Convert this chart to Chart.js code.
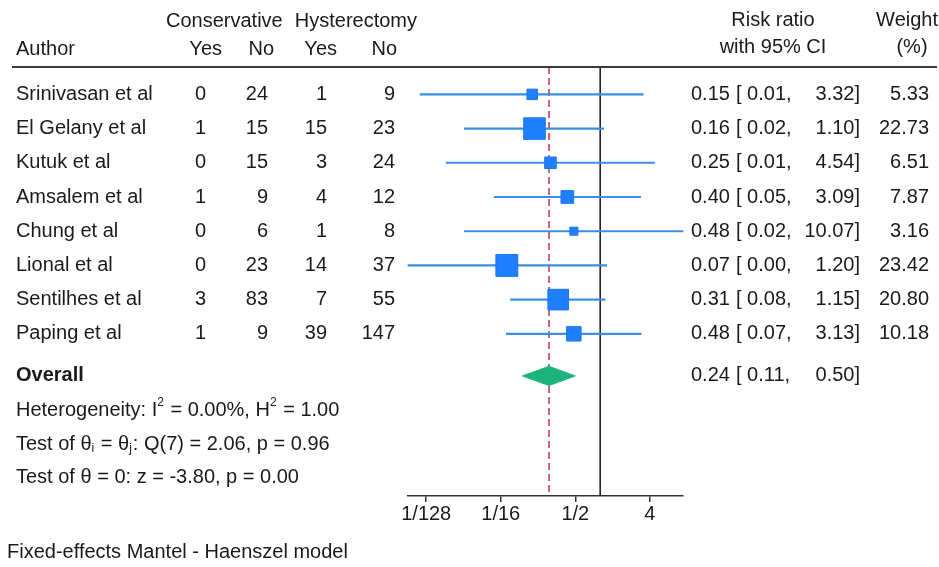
<!DOCTYPE html>
<html>
<head>
<meta charset="utf-8">
<script src="https://cdn.jsdelivr.net/npm/chart.js@4.4.0/dist/chart.umd.min.js"></script>
<style>
  html, body { margin: 0; padding: 0; background: #fff; }
</style>
</head>
<body>
<canvas id="forest" width="939" height="567"></canvas>
<script>
// Study rows
const authors = ['Srinivasan et al', 'El Gelany et al', 'Kutuk et al', 'Amsalem et al',
                 'Chung et al', 'Lional et al', 'Sentilhes et al', 'Paping et al'];
const conservativeYes = [0, 1, 0, 1, 0, 0, 3, 1];
const conservativeNo = [24, 15, 15, 9, 6, 23, 83, 9];
const hysterectomyYes = [1, 15, 3, 4, 1, 14, 7, 39];
const hysterectomyNo = [9, 23, 24, 12, 8, 37, 55, 147];
const riskRatio = [0.15, 0.16, 0.25, 0.40, 0.48, 0.074, 0.31, 0.48];
const ciLower = [0.0066, 0.0226, 0.0136, 0.052, 0.0226, 0.0047, 0.082, 0.073];
const ciUpper = [3.32, 1.10, 4.54, 3.09, 10.07, 1.20, 1.15, 3.13];
const weights = [5.33, 22.73, 6.51, 7.87, 3.16, 23.42, 20.80, 10.18];

// Pooled estimate
const overallRR = 0.24;
const overallLower = 0.114;
const overallUpper = 0.50;

// Axis
const xTicks = [1 / 128, 1 / 16, 1 / 2, 4];
const xTickLabels = ['1/128', '1/16', '1/2', '4'];
const xMin = 0.0047;
const xMax = 10.07;

// Footer statistics (text runs, 'sup' / 'sub' for raised / lowered glyphs)
const statLines = [
    [['Heterogeneity: I'], ['2', 'sup'], [' = 0.00%, H'], ['2', 'sup'], [' = 1.00']],
    [['Test of \u03b8'], ['i', 'sub'], [' = \u03b8'], ['j', 'sub'], [': Q(7) = 2.06, p = 0.96']],
    [['Test of \u03b8 = 0: z = -3.80, p = 0.00']]
];

// vertical layout in row units
const yMin = -0.8;
const yMax = 11.74;
const overallRow = 8.23;
const statRows = [9.23, 10.22, 11.21];
const diamondHalf = 0.28;

const FONT = '20px "Liberation Sans", Arial, sans-serif';
const FONT_BOLD = 'bold 20px "Liberation Sans", Arial, sans-serif';
const FONT_SMALL = '12px "Liberation Sans", Arial, sans-serif';
const INK = '#1a1a1a';

function drawRuns(ctx, runs, x, y) {
    let cx = x;
    runs.forEach(([t, kind]) => {
        ctx.font = kind ? FONT_SMALL : FONT;
        const dy = kind === 'sup' ? -7 : kind === 'sub' ? 5 : 0;
        ctx.fillText(t, cx, y + dy);
        cx += ctx.measureText(t).width + (kind ? 1 : 0);
    });
}

const tableText = {
    id: 'tableText',
    afterDraw(chart) {
        const { ctx, chartArea, scales: { y } } = chart;
        ctx.save();
        ctx.fillStyle = INK;
        ctx.textBaseline = 'middle';

        const put = (t, x, py, align, font) => {
            ctx.font = font || FONT;
            ctx.textAlign = align || 'left';
            ctx.fillText(t, x, py);
        };

        // header
        put('Conservative', 166, 21);
        put('Hysterectomy', 417, 21, 'right');
        put('Author', 16, 49);
        put('Yes', 222, 49, 'right');
        put('No', 274, 49, 'right');
        put('Yes', 337, 49, 'right');
        put('No', 397, 49, 'right');
        put('Risk ratio', 773, 20, 'center');
        put('with 95% CI', 773, 47, 'center');
        put('Weight', 938, 20, 'right');
        put('(%)', 912, 47, 'center');

        // header rule
        ctx.strokeStyle = '#3a3a3a';
        ctx.lineWidth = 2;
        ctx.beginPath();
        ctx.moveTo(12, chartArea.top);
        ctx.lineTo(937, chartArea.top);
        ctx.stroke();

        // study rows
        authors.forEach((name, i) => {
            const py = y.getPixelForValue(i);
            put(name, 16, py);
            put(String(conservativeYes[i]), 206, py, 'right');
            put(String(conservativeNo[i]), 268, py, 'right');
            put(String(hysterectomyYes[i]), 327, py, 'right');
            put(String(hysterectomyNo[i]), 395, py, 'right');
            put(riskRatio[i].toFixed(2), 691, py);
            put('[ ' + ciLower[i].toFixed(2) + ',', 736, py);
            put(ciUpper[i].toFixed(2) + ']', 860, py, 'right');
            put(weights[i].toFixed(2), 929, py, 'right');
        });

        // pooled row
        const po = y.getPixelForValue(overallRow);
        put('Overall', 16, po, 'left', FONT_BOLD);
        put(overallRR.toFixed(2), 691, po);
        put('[ ' + overallLower.toFixed(2) + ',', 736, po);
        put(overallUpper.toFixed(2) + ']', 860, po, 'right');

        ctx.textAlign = 'left';
        statLines.forEach((runs, k) => drawRuns(ctx, runs, 16, y.getPixelForValue(statRows[k])));

        put('Fixed-effects Mantel - Haenszel model', 7, 552);
        ctx.restore();
    }
};

const ctx = document.getElementById('forest').getContext('2d');

new Chart(ctx, {
    type: 'scatter',
    data: {
        datasets: [
            {
                // pooled diamond, upper half
                type: 'line',
                data: [{ x: overallLower, y: overallRow }, { x: overallRR, y: overallRow - diamondHalf }, { x: overallUpper, y: overallRow }],
                borderColor: '#1cb47d',
                backgroundColor: '#1cb47d',
                borderWidth: 1,
                pointRadius: 0,
                tension: 0,
                fill: false,
                order: 1
            },
            {
                // pooled diamond, lower half
                type: 'line',
                data: [{ x: overallLower, y: overallRow }, { x: overallRR, y: overallRow + diamondHalf }, { x: overallUpper, y: overallRow }],
                borderColor: '#1cb47d',
                backgroundColor: '#1cb47d',
                borderWidth: 1,
                pointRadius: 0,
                tension: 0,
                fill: '-1',
                order: 2
            },
            {
                // study estimates, box area ~ weight
                type: 'scatter',
                data: authors.map((_, i) => ({ x: riskRatio[i], y: i })),
                pointStyle: 'rect',
                pointRadius: c => 3.2 * Math.sqrt(weights[c.dataIndex]),
                pointHoverRadius: c => 3.2 * Math.sqrt(weights[c.dataIndex]),
                backgroundColor: '#1f80ff',
                borderColor: '#1b74ec',
                borderWidth: 1,
                order: 3
            },
            {
                // confidence intervals
                type: 'bar',
                indexAxis: 'y',
                data: authors.map((_, i) => ({ x: [ciLower[i], ciUpper[i]], y: i })),
                backgroundColor: '#3a8ee6',
                borderWidth: 0,
                barThickness: 1.5,
                order: 4
            },
            {
                // line of no effect
                type: 'line',
                data: [{ x: 1, y: yMin }, { x: 1, y: yMax }],
                borderColor: '#222',
                borderWidth: 1.6,
                pointRadius: 0,
                order: 5
            },
            {
                // pooled estimate reference
                type: 'line',
                data: [{ x: overallRR, y: yMin }, { x: overallRR, y: yMax }],
                borderColor: '#c43a6c',
                borderWidth: 1.6,
                borderDash: [7, 4],
                pointRadius: 0,
                order: 6
            }
        ]
    },
    options: {
        responsive: false,
        animation: false,
        devicePixelRatio: 1,
        clip: false,
        layout: { padding: { left: 408, right: 256, top: 67, bottom: 41 } },
        plugins: {
            legend: { display: false },
            tooltip: { enabled: false }
        },
        scales: {
            x: {
                type: 'logarithmic',
                min: xMin,
                max: xMax,
                afterBuildTicks: s => { s.ticks = xTicks.map(v => ({ value: v })); },
                afterFit: s => { s.height = 30; },
                ticks: {
                    autoSkip: false,
                    maxRotation: 0,
                    padding: 0,
                    color: INK,
                    font: { family: '"Liberation Sans", Arial, sans-serif', size: 20 },
                    callback: v => xTickLabels[xTicks.indexOf(v)]
                },
                grid: { drawOnChartArea: false, tickLength: 6, color: '#333', lineWidth: 1.5 },
                border: { display: true, color: '#333', width: 1.5 }
            },
            y: {
                type: 'linear',
                reverse: true,
                min: yMin,
                max: yMax,
                offset: false,
                display: false
            }
        }
    },
    plugins: [tableText]
});
</script>
</body>
</html>
